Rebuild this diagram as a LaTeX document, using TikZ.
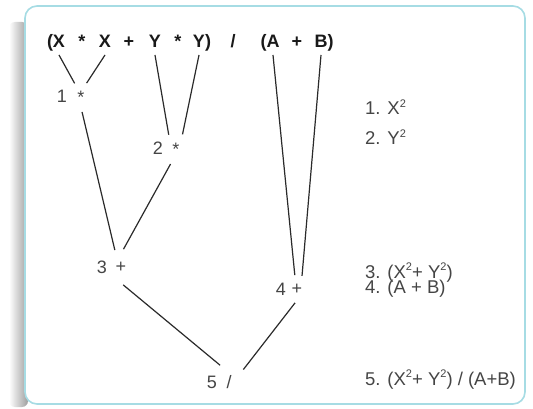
\documentclass[tikz,border=0pt]{standalone}
\usepackage{fontspec}
\setmainfont{Liberation Sans}
\definecolor{framec}{HTML}{A6DCE4}
\definecolor{txtgray}{HTML}{454545}
\definecolor{linec}{HTML}{2A2A2A}
\newcommand{\supr}[1]{\raisebox{0.42em}{\fontsize{11}{12}\selectfont #1}}
\tikzset{
  tok/.style={anchor=base,inner xsep=0pt,inner ysep=7pt,outer sep=0pt,
    font=\fontsize{18}{20}\selectfont\bfseries,text=black!90},
  par/.style={inner sep=0pt,outer sep=0pt,font=\fontsize{18}{20}\selectfont\bfseries,text=black!90},
  opnode/.style={circle,inner sep=0pt,outer sep=0pt,minimum size=#1,
    font=\fontsize{18}{20}\selectfont,text=txtgray},
  numlab/.style={anchor=base,inner sep=0pt,font=\fontsize{18}{20}\selectfont,text=txtgray},
  sidelab/.style={anchor=base west,inner sep=0pt,font=\fontsize{18.5}{20}\selectfont,text=txtgray},
  edge/.style={draw=linec,line width=1.2pt},
  framebox/.style={draw=framec,line width=1.6pt,fill=white,rounded corners=12pt}
}
\begin{document}
\begin{tikzpicture}[x=1pt,y=-1pt]
\useasboundingbox (0,0) rectangle (533,409);
\fill[white] (0,0) rectangle (533,409);
% shadow and frame
\shade[left color=white,right color=black!38,rounded corners=6pt] (9,22) rectangle (28,407);
\path[framebox] (25,6) rectangle (525,404);

% top expression
\node[tok] (X1) at (59,48) {X};
\node[par,anchor=base east] (p1) at (X1.base west) {(};
\node[tok] (m1) at (82,48) {*};
\node[tok] (X2) at (105,48) {X};
\node[tok] (pl1) at (129,48) {+};
\node[tok] (Y1) at (155,48) {Y};
\node[tok] (m2) at (178,48) {*};
\node[tok] (Y2) at (199,48) {Y};
\node[par,anchor=base west] (p2) at (Y2.base east) {)};
\node[tok] (dv) at (233,48) {/};
\node[tok] (A) at (273,48) {A};
\node[par,anchor=base east] (p3) at (A.base west) {(};
\node[tok] (pl2) at (297,48) {+};
\node[tok] (B) at (321,48) {B};
\node[par,anchor=base west] (p4) at (B.base east) {)};

% tree nodes
\node[opnode=30pt] (o1) at (81,97) {*};
\node[numlab] (n1) at (62,103) {1};
\node[opnode=32pt] (o2) at (176,149) {*};
\node[numlab] (n2) at (158,155) {2};
\node[opnode=36pt] (o3) at (121,267) {+};
\node[numlab] (n3) at (102,273) {3};
\node[opnode=28pt] (o4) at (297,289) {+};
\node[numlab] (n4) at (281,295) {4};
\node[opnode=38pt] (o5) at (229,382) {/};
\node[numlab] (n5) at (212,388) {5};

% connectors
\draw[edge] (X1.south) -- (o1.115);
\draw[edge] (X2.south) -- (o1.68);
\draw[edge] (Y1.south) -- (o2.117);
\draw[edge] (Y2.south) -- (o2.66);
\draw[edge] (o1.-86) -- (o3.110);
\draw[edge] (o2.-110) -- (o3.82);
\draw[edge] (A.south) -- (o4.99);
\draw[edge] (B.south) -- (o4.69);
\draw[edge] (o3.-83) -- (o5.118);
\draw[edge] (o4.-98) -- (o5.41);

% side labels
\node[sidelab] (s1) at (365,115) {1. X\supr{2}};
\node[sidelab] (s2) at (365,145) {2. Y\supr{2}};
\node[sidelab] (s3) at (365,278) {3. (X\supr{2}+ Y\supr{2})};
\node[sidelab] (s4) at (365,293) {4. (A + B)};
\node[sidelab] (s5) at (365,385) {5. (X\supr{2}+ Y\supr{2}) / (A+B)};
\end{tikzpicture}
\end{document}
